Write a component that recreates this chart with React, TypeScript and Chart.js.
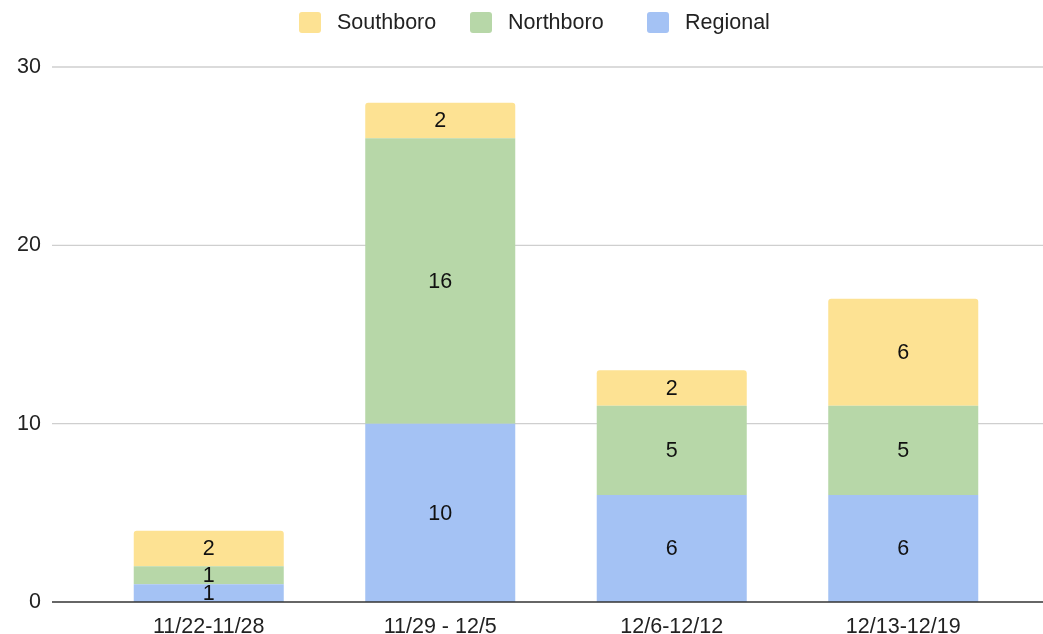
import React, { useEffect, useRef } from "react";
import { Chart, registerables } from "chart.js";

Chart.register(...registerables);

// ---- data ----
const categories = ["11/22-11/28", "11/29 - 12/5", "12/6-12/12", "12/13-12/19"];
const regional = [1, 10, 6, 6];
const northboro = [1, 16, 5, 5];
const southboro = [2, 2, 2, 6];
const yTickValues = [0, 10, 20, 30];

// ---- style ----
const FONT_FAMILY = "'Liberation Sans', Arial, sans-serif";
const FS = 21.5;
const TEXT = "#222222";
const COLORS = { regional: "#a4c2f4", northboro: "#b7d7a8", southboro: "#fde293" };
const GRID_LEFT = 52;
const Y_LABEL_RIGHT = 41;
const LEGEND_X = [299, 470, 647];
const W = 1043;
const H = 634;

const extrasPlugin = {
  id: "extras",
  beforeDatasetsDraw(chart: any) {
    const { ctx } = chart;
    const ys = chart.scales.y;
    ctx.save();
    ctx.strokeStyle = "#cfcfcf";
    ctx.lineWidth = 1.3;
    ys.ticks.forEach((t: any) => {
      if (t.value === 0) return;
      const py = ys.getPixelForValue(t.value);
      ctx.beginPath();
      ctx.moveTo(GRID_LEFT, py);
      ctx.lineTo(chart.width, py);
      ctx.stroke();
    });
    // y tick labels
    ctx.fillStyle = TEXT;
    ctx.font = `${FS}px ${FONT_FAMILY}`;
    ctx.textAlign = "right";
    ctx.textBaseline = "middle";
    ys.ticks.forEach((t: any) => {
      const py = ys.getPixelForValue(t.value);
      ctx.fillText(t.label != null ? String(t.label) : String(t.value), Y_LABEL_RIGHT, py);
    });
    ctx.restore();
  },
  afterDatasetsDraw(chart: any) {
    const { ctx } = chart;
    const ys = chart.scales.y;
    ctx.save();
    // zero line
    const p0 = ys.getPixelForValue(0);
    ctx.strokeStyle = "#333333";
    ctx.lineWidth = 1.5;
    ctx.beginPath();
    ctx.moveTo(GRID_LEFT, p0);
    ctx.lineTo(chart.width, p0);
    ctx.stroke();
    // value labels
    ctx.fillStyle = "#111111";
    ctx.font = `${FS}px ${FONT_FAMILY}`;
    ctx.textAlign = "center";
    ctx.textBaseline = "middle";
    chart.data.datasets.forEach((ds: any, i: number) => {
      const meta = chart.getDatasetMeta(i);
      meta.data.forEach((el: any, j: number) => {
        const v = ds.data[j];
        if (!v) return;
        const { x, y, base } = el.getProps(["x", "y", "base"], true);
        ctx.fillText(String(v), x, (y + base) / 2 + 1);
      });
    });
    ctx.restore();
  },
  afterDraw(chart: any) {
    const { ctx } = chart;
    ctx.save();
    ctx.font = `${FS}px ${FONT_FAMILY}`;
    ctx.textBaseline = "middle";
    ctx.textAlign = "left";
    const items = [...chart.data.datasets].reverse();
    items.forEach((ds: any, k: number) => {
      const x = LEGEND_X[k];
      ctx.fillStyle = ds.backgroundColor;
      ctx.beginPath();
      (ctx as any).roundRect(x, 12, 22, 21, 3);
      ctx.fill();
      ctx.fillStyle = TEXT;
      ctx.fillText(ds.label, x + 38, 23);
    });
    ctx.restore();
  },
};

export default function App() {
  const ref = useRef<HTMLCanvasElement | null>(null);
  useEffect(() => {
    if (!ref.current) return;
    const chart = new Chart(ref.current, {
      type: "bar",
      data: {
        labels: categories,
        datasets: [
          { label: "Regional", data: regional, backgroundColor: COLORS.regional, borderRadius: 3 },
          { label: "Northboro", data: northboro, backgroundColor: COLORS.northboro, borderRadius: 3 },
          { label: "Southboro", data: southboro, backgroundColor: COLORS.southboro, borderRadius: 3 },
        ],
      },
      options: {
        responsive: false,
        maintainAspectRatio: false,
        animation: false,
        layout: { padding: { top: 67, left: 17, right: 24, bottom: 0 } },
        datasets: { bar: { barPercentage: 0.648, categoryPercentage: 1 } },
        plugins: { legend: { display: false }, tooltip: { enabled: false } },
        scales: {
          x: {
            stacked: true,
            grid: { display: false, drawTicks: false },
            border: { display: false },
            afterFit: (s: any) => {
              s.height = 32;
            },
            ticks: {
              color: TEXT,
              font: { family: FONT_FAMILY, size: FS },
              padding: 12,
              maxRotation: 0,
              autoSkip: false,
            },
          },
          y: {
            stacked: true,
            min: 0,
            max: 30,
            afterBuildTicks: (s: any) => {
              s.ticks = yTickValues.map((v) => ({ value: v }));
            },
            afterFit: (s: any) => {
              s.width = 76;
            },
            grid: { display: false, drawTicks: false },
            border: { display: false },
            ticks: { display: false, padding: 0 },
          },
        },
      },
      plugins: [extrasPlugin],
    } as any);
    return () => chart.destroy();
  }, []);
  return (
    <div style={{ position: "absolute", left: 0, top: 0, width: W, height: H, background: "#fff" }}>
      <canvas ref={ref} width={W} height={H} style={{ display: "block", width: W, height: H }} />
    </div>
  );
}
